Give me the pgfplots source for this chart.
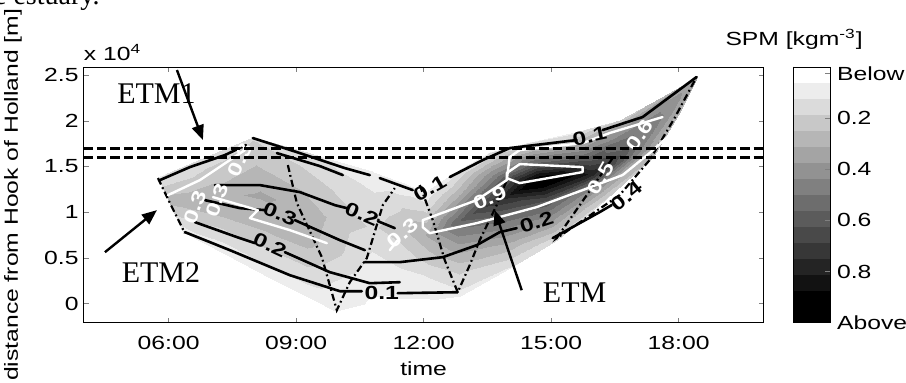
\documentclass[border=0pt]{standalone}
\usepackage{fontspec}
\setmainfont{Liberation Sans}[FakeStretch=1.3]
\newfontfamily\serif{Liberation Serif}
\usepackage{pgfplots}
\pgfplotsset{compat=1.18}
\usetikzlibrary{arrows.meta}

% SPM field on a curvilinear mesh following the survey tracks:
% 15 sections along the track, 6 points across each (x = time [h], y = distance [m], v = SPM)
\pgfplotstableread{
x y v
6.337 7814 0.08
6.219 9020 0.15
6.102 10225 0.22
5.984 11431 0.28
5.867 12636 0.20
5.749 13842 0.12
7.325 5403 0.08
7.231 7529 0.15
7.137 9655 0.25
7.042 11782 0.30
6.948 13908 0.22
6.854 16034 0.15
8.383 2773 0.08
8.303 5864 0.18
8.223 8954 0.28
8.143 12045 0.32
8.063 15136 0.25
7.983 18226 0.18
9.323 581 0.08
9.276 3825 0.18
9.229 7069 0.28
9.182 10314 0.30
9.135 13558 0.22
9.088 16802 0.15
9.958 -954 0.06
9.972 2334 0.12
9.986 5622 0.20
10.001 8910 0.22
10.015 12198 0.18
10.029 15486 0.10
10.734 -625 0.05
10.758 2378 0.08
10.781 5381 0.12
10.805 8384 0.18
10.828 11387 0.15
10.852 14390 0.06
11.439 -186 0.05
11.439 2532 0.10
11.439 5250 0.15
11.439 7968 0.22
11.439 10686 0.18
11.439 13404 0.06
12.145 362 0.06
12.121 2729 0.12
12.098 5096 0.22
12.074 7464 0.32
12.051 9831 0.20
12.027 12198 0.06
12.850 800 0.10
12.827 3518 0.20
12.803 6236 0.35
12.780 8954 0.55
12.756 11672 0.30
12.733 14390 0.10
14.026 3869 0.12
13.932 6412 0.30
13.838 8954 0.50
13.744 11497 0.75
13.650 14039 0.45
13.556 16582 0.12
15.131 6938 0.15
15.004 9086 0.38
14.877 11234 0.62
14.750 13382 1.00
14.623 15530 0.55
14.496 17678 0.12
16.259 11322 0.18
16.118 12812 0.40
15.977 14303 0.80
15.836 15793 0.60
15.695 17284 0.35
15.554 18774 0.10
17.388 16034 0.25
17.233 16845 0.38
17.078 17656 0.50
16.922 18468 0.50
16.767 19279 0.40
16.612 20090 0.20
17.976 20638 0.28
17.891 21011 0.36
17.807 21383 0.42
17.722 21756 0.42
17.638 22128 0.36
17.553 22501 0.28
18.423 24802 0.32
18.423 24802 0.32
18.423 24802 0.32
18.423 24802 0.32
18.423 24802 0.32
18.423 24802 0.32
}\spmfield

\pgfplotsset{
  cblack/.style={black, line width=1.3pt, line join=round, line cap=round},
  cwhite/.style={white, line width=1.2pt, line join=round, line cap=round},
  track/.style={black, line width=1.1pt, dash pattern=on 3.5pt off 1.6pt on 0.9pt off 1.6pt},
}
\newcommand\lab{\fontsize{9.5}{11}\selectfont}
\tikzset{
  etm/.style={black, line width=1.2pt, -{Triangle[length=7.5pt,width=6pt]}},
  blab/.style={font=\lab\bfseries, text=black, inner sep=0.5pt},
  wlab/.style={font=\lab\bfseries, text=white, inner sep=0.5pt},
  etmtext/.style={font=\serif\fontsize{15}{17}\selectfont, text=black},
}

\begin{document}
\begin{tikzpicture}
\path[use as bounding box] (-41.8pt,-30.15pt) rectangle (411.2pt,161.35pt);
\begin{axis}[
  name=main, at={(0,0)}, anchor=south west,
  scale only axis, width=340pt, height=127.85pt,
  xmin=4, xmax=20, ymin=-2100, ymax=25900,
  xtick={6,9,12,15,18}, xticklabels={06:00,09:00,12:00,15:00,18:00},
  ytick={0,5000,10000,15000,20000,25000}, yticklabels={0,0.5,1,1.5,2,2.5},
  scaled y ticks=false,
  tick align=inside, major tick length=2.5pt,
  tick label style={font=\lab},
  xticklabel style={yshift=-3pt},
  yticklabel style={xshift=1pt},
  xlabel={time}, ylabel={distance from Hook of Holland [m]},
  label style={font=\lab},
  xlabel style={at={(axis description cs:0.5,-0.18)}, anchor=center},
  ylabel style={at={(axis description cs:-0.1038,0.5)}, anchor=center},
  colormap={spm}{gray=(1) gray=(0.9286) gray=(0.8571) gray=(0.7857) gray=(0.7143)
    gray=(0.6429) gray=(0.5714) gray=(0.5) gray=(0.4286) gray=(0.3571) gray=(0.2857)
    gray=(0.2143) gray=(0.1429) gray=(0.0714) gray=(0) gray=(0)},
  colormap access=piecewise constant,
  point meta min=0, point meta max=1,
  colorbar,
  colorbar style={
    at={(parent axis.north east)}, anchor=north west, xshift=6.2pt,
    width=18.5pt, y dir=reverse,
    ytick={0.025,0.2,0.4,0.6,0.8,1},
    yticklabels={Below,0.2,0.4,0.6,0.8,Above},
    ytick pos=right,
    tick align=inside, major tick length=2.5pt,
    yticklabel style={font=\lab},
    title={\lab SPM [kgm\textsuperscript{-3}]},
    title style={yshift=-1pt, xshift=-8.75pt},
  },
  axis on top,
]
% filled SPM field
\addplot[surf, shader=interp, mesh/cols=6, mesh/rows=15, point meta=explicit]
  table[x=x, y=y, meta=v] {\spmfield};

% survey tracks (dash-dot)
\addplot[track] coordinates {(5.749,13733) (6.032,10993) (6.384,7705)};
\addplot[track] coordinates {(8.806,15158) (9.018,10993) (9.606,5075) (9.958,-734) (10.264,2335) (10.664,4965) (11.040,10774) (11.322,12637)};
\addplot[track] coordinates {(11.910,12966) (12.216,9130) (12.498,4746) (12.803,1238) (13.085,4198) (13.321,6938) (13.720,10774) (13.956,13514)};
\addplot[track] coordinates {(16.448,15925) (15.131,7157) (16.612,11870) (17.318,15706) (17.906,20309) (18.423,24803)};

% black contour lines
\addplot[cblack] coordinates {(5.796,13514) (6.502,14939) (7.325,16254) (7.819,17350)};
\addplot[cblack] coordinates {(7.983,18117) (9.088,16473) (10.146,14829) (10.734,14062)};
\addplot[cblack] coordinates {(8.547,16473) (9.559,15048) (10.099,14062)};
\addplot[cblack] coordinates {(7.090,12966) (8.148,12966) (9.088,12199) (9.911,10774) (10.193,10445)};
\addplot[cblack] coordinates {(10.922,9020) (11.322,8253)};
\addplot[cblack] coordinates {(6.855,11322) (7.677,10445) (8.265,10226)};
\addplot[cblack] coordinates {(8.971,9130) (10.029,6938) (10.617,5842)};
\addplot[cblack] coordinates {(6.619,8911) (7.677,7157) (8.030,6609)};
\addplot[cblack] coordinates {(8.736,5623) (9.794,3431) (10.734,2225) (11.439,2335)};
\addplot[cblack] coordinates {(6.384,7815) (7.442,5842) (8.853,3102) (10.029,1348) (10.546,1348)};
\addplot[cblack] coordinates {(11.392,1129) (12.803,1238)};
\addplot[cblack] coordinates {(10.617,4527) (11.439,4527) (12.451,5075) (13.250,6390) (13.791,7815) (14.190,8253)};
\addplot[cblack] coordinates {(15.037,7157) (16.142,10007) (16.424,10774)};
\addplot[cblack] coordinates {(10.969,13733) (11.745,12418)};
\addplot[cblack] coordinates {(12.615,13843) (13.391,15706) (14.026,17021) (15.601,17898)};
\addplot[cblack] coordinates {(16.213,18994) (17.153,20419) (18.423,24803)};

% white contour lines
\addplot[cwhite] coordinates {(5.985,11870) (6.737,13514) (7.372,15487) (7.795,16802)};
\addplot[cwhite] coordinates {(7.043,11651) (8.101,10226) (7.913,9349) (8.853,8034) (9.723,6609)};
\addplot[cwhite] coordinates {(11.205,5842) (11.392,6938)};
\addplot[cwhite] coordinates {(17.741,18227) (17.318,16473) (16.683,14062) (15.742,12418) (14.661,10555) (13.250,8801) (12.145,7705) (11.980,8363) (11.980,9130) (12.615,10226) (13.250,11322) (13.956,13514) (14.026,16035) (14.261,16802) (15.742,17569) (16.377,18665) (17.153,19761) (17.623,20419)};
\addplot[cwhite] coordinates {(13.956,14281) (14.261,15268) (15.742,14939) (15.742,14391) (14.261,13185) (13.956,13733) (13.956,14281)};

% contour labels
\node[blab, rotate=-23] at (axis cs:10.546,9788) {0.2};
\node[blab, rotate=-22] at (axis cs:8.618,9788) {0.3};
\node[blab, rotate=-25] at (axis cs:8.383,6390) {0.2};
\node[blab] at (axis cs:11.016,1129) {0.1};
\node[blab, rotate=18] at (axis cs:14.661,8911) {0.2};
\node[blab, rotate=40] at (axis cs:16.777,11760) {0.4};
\node[blab, rotate=30] at (axis cs:12.145,12637) {0.1};
\node[blab, rotate=12] at (axis cs:15.907,18336) {0.1};
\node[wlab, rotate=40] at (axis cs:11.510,7705) {0.3};
\node[wlab, rotate=22] at (axis cs:13.556,11541) {0.9};
\node[wlab, rotate=60] at (axis cs:16.166,13733) {0.5};
\node[wlab, rotate=55] at (axis cs:17.083,18446) {0.6};
\node[wlab, rotate=65] at (axis cs:7.677,15706) {0.3};
\node[wlab, rotate=70] at (axis cs:6.619,10555) {0.3};
\node[wlab, rotate=70] at (axis cs:7.137,11322) {0.3};

% dashed reference lines
\addplot[black, line width=1.6pt, dash pattern=on 4.7pt off 2pt] coordinates {(4,17000) (20,17000)};
\addplot[black, line width=1.6pt, dash pattern=on 4.7pt off 2pt] coordinates {(4,16000) (20,16000)};

% annotations
\draw[etm] (axis cs:6.196,25570) -- (axis cs:6.808,17898);
\draw[etm] (axis cs:4.503,5623) -- (axis cs:5.726,10226);
\draw[etm] (axis cs:14.308,1458) -- (axis cs:13.673,10226);
\node[etmtext] at (axis cs:5.714,22940) {ETM1};
\node[etmtext] at (axis cs:5.820,3431) {ETM2};
\node[etmtext] at (axis cs:15.554,1238) {ETM};
\end{axis}
\node[anchor=base west, inner sep=0pt] at ([yshift=3pt]main.north west) {\lab x 10\textsuperscript{4}};
\node[anchor=base east, font=\serif\fontsize{14}{16}\selectfont, inner sep=0pt] at (8.2pt,158.85pt) {e estuary.};
\end{tikzpicture}
\end{document}
